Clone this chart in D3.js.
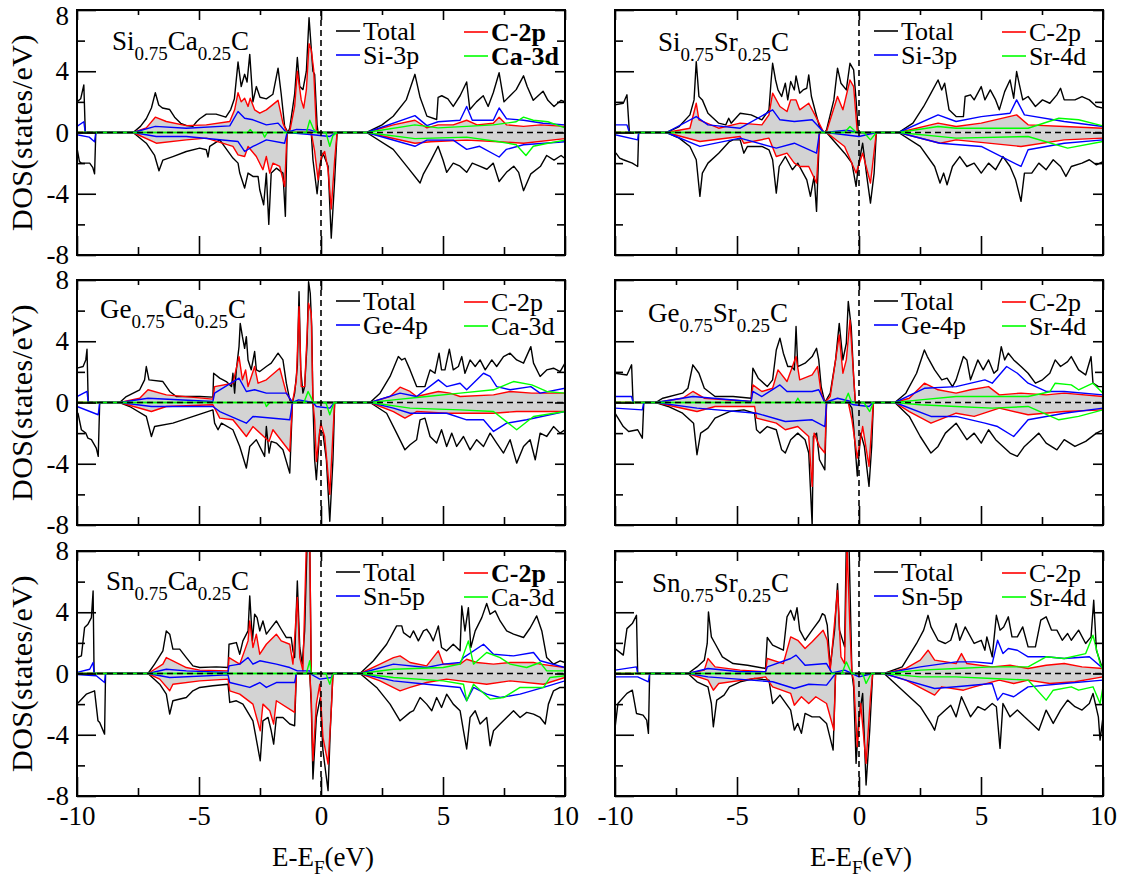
<!DOCTYPE html>
<html>
<head>
<meta charset="utf-8">
<script src="https://cdn.jsdelivr.net/npm/d3@7"></script>
<style>
  body { margin: 0; background: #fff; }
</style>
</head>
<body>
<svg id="chart" width="1125" height="884"></svg>
<script>
// ---- data: [E - E_F (eV), DOS (states/eV)], spin up (>0) and spin down (<0)
const xTicks = [-10, -5, 0, 5, 10];
const yTicks = [-8, -4, 0, 4, 8];

// Si0.75Ca0.25C
const siCaTotUp = [[-10,2.0],[-9.85,2.2],[-9.72,3.1],[-9.66,0],[-7.7,0],[-7.4,0.4],[-7.16,0.9],[-6.95,1.6],[-6.79,2.6],[-6.65,1.8],[-6.5,1.6],[-6.2,1.5],[-6.0,1.0],[-5.75,0.6],[-5.5,0.45],[-5.25,0.4],[-5.1,0.7],[-4.97,0.9],[-4.7,1.2],[-4.3,1.2],[-3.9,1.0],[-3.7,1.5],[-3.55,2.2],[-3.4,4.6],[-3.27,3.0],[-3.13,3.8],[-3.03,3.3],[-2.92,5.1],[-2.79,2.0],[-2.65,3.0],[-2.5,2.3],[-2.24,2.2],[-1.97,2.5],[-1.76,4.2],[-1.63,2.5],[-1.49,0.4],[-1.35,0],[-1.28,0.3],[-1.08,2.5],[-0.97,4.9],[-0.87,3.0],[-0.74,2.8],[-0.6,4.0],[-0.49,7.5],[-0.4,5.5],[-0.33,4.0],[-0.26,3.8],[-0.16,0.5],[-0.12,0],[1.87,0],[2.5,0.5],[2.96,1.06],[3.5,2.15],[3.85,3.8],[4.06,2.3],[4.34,1.07],[4.74,0.85],[4.8,2.3],[4.95,2.4],[5.2,2.2],[5.42,1.7],[5.7,2.4],[5.97,3.3],[6.1,1.5],[6.37,2.0],[6.65,2.4],[6.85,1.7],[7.06,2.6],[7.3,3.9],[7.5,2.0],[7.75,2.4],[8.0,2.8],[8.3,3.7],[8.45,3.0],[8.7,2.1],[9.1,2.7],[9.3,2.1],[9.55,1.7],[9.84,2.1],[10,2.0]];
const siCaTotDn = [[-10,-1.0],[-9.9,-1.9],[-9.82,-2.0],[-9.48,-2.0],[-9.35,-2.3],[-9.28,-2.7],[-9.23,0],[-7.7,0],[-7.16,-0.7],[-6.82,-1.5],[-6.64,-2.5],[-6.48,-1.8],[-6.07,-1.57],[-5.52,-1.24],[-4.97,-1.02],[-4.7,-1.13],[-4.63,-1.6],[-4.56,-0.91],[-4.15,-0.48],[-3.61,-1.67],[-3.4,-2.0],[-3.33,-2.65],[-3.13,-3.63],[-2.99,-2.65],[-2.79,-2.87],[-2.58,-2.87],[-2.51,-3.74],[-2.35,-4.72],[-2.24,-2.65],[-2.14,-6.0],[-2.04,-2.65],[-1.83,-2.33],[-1.56,-2.65],[-1.46,-5.48],[-1.39,0],[-0.4,0],[-0.33,-1.78],[-0.16,-4.0],[-0.05,-2.2],[0.08,-1.35],[0.29,-2.2],[0.42,-6.9],[0.56,-3.1],[0.66,0],[1.87,0],[2.96,-1.1],[3.51,-2.2],[4.06,-3.3],[4.2,-2.7],[4.48,-1.9],[4.8,-0.9],[5.0,-1.8],[5.15,-2.6],[5.42,-2.0],[5.7,-2.2],[5.97,-2.6],[6.2,-2.0],[6.5,-2.2],[6.8,-2.4],[7.06,-2.0],[7.3,-3.2],[7.6,-2.6],[7.9,-2.2],[8.1,-2.6],[8.3,-3.8],[8.6,-2.7],[9.0,-2.2],[9.25,-1.5],[9.55,-1.8],[9.84,-1.5],[10,-1.7]];
const siCaC2pUp = [[-10,0],[-7.7,0],[-7.16,0.3],[-6.79,1.0],[-6.34,0.72],[-5.52,0.45],[-4.7,0.5],[-3.74,0.72],[-3.54,1.48],[-3.4,2.6],[-3.27,2.0],[-3.13,2.24],[-2.99,1.7],[-2.9,2.24],[-2.72,1.48],[-2.51,1.26],[-2.24,1.48],[-1.76,2.1],[-1.56,0.61],[-1.39,0],[-1.28,0.07],[-1.08,1.7],[-0.97,4.0],[-0.81,2.13],[-0.71,1.59],[-0.6,2.78],[-0.49,5.8],[-0.4,5.4],[-0.3,4.1],[-0.19,0.17],[-0.12,0],[1.87,0],[2.96,0.5],[3.85,0.8],[4.34,0.3],[4.8,0.5],[5.42,0.5],[5.97,0.8],[6.4,0.5],[7.06,0.6],[7.3,1.0],[7.6,0.5],[8.3,0.4],[9.0,0.5],[10,0.4]];
const siCaC2pDn = [[-10,0],[-7.7,0],[-6.75,-0.7],[-5.52,-0.48],[-4.7,-0.37],[-3.61,-0.91],[-3.4,-1.46],[-3.13,-1.57],[-2.99,-0.91],[-2.65,-1.57],[-2.38,-2.43],[-2.24,-1.57],[-2.1,-2.65],[-1.97,-2.0],[-1.69,-2.22],[-1.49,-3.52],[-1.39,0],[-0.4,0],[-0.26,-1.24],[-0.12,-3.09],[0.01,-1.57],[0.15,-1.24],[0.29,-2.43],[0.42,-5.0],[0.56,-1.78],[0.66,0],[1.87,0],[3.85,-0.7],[4.5,-0.6],[5.97,-0.5],[7.3,-0.6],[8.3,-0.7],[10,-0.4]];
const siCaPUp = [[-10,0.4],[-9.72,0.7],[-9.66,0],[-7.7,0],[-6.79,0.4],[-5.52,0.28],[-3.74,0.43],[-3.4,1.37],[-3.13,0.93],[-2.79,0.83],[-2.24,0.5],[-1.76,0.61],[-1.42,0],[-1.0,0.2],[-0.46,0.17],[-0.12,0],[1.87,0],[3.85,1.1],[4.34,0.45],[4.8,0.7],[5.7,0.8],[5.97,1.7],[6.2,0.8],[7.06,0.8],[7.3,1.6],[7.6,0.9],[8.3,0.8],[9.1,0.6],[10,0.5]];
const siCaPDn = [[-10,-0.15],[-9.5,-0.3],[-9.28,-0.6],[-9.23,0],[-7.7,0],[-6.75,-0.26],[-5.52,-0.26],[-3.4,-0.59],[-3.13,-1.24],[-2.79,-0.91],[-2.24,-0.48],[-1.49,-0.7],[-1.39,0],[-0.33,-0.15],[0.36,-0.26],[0.66,0],[1.87,0],[3.85,-0.9],[4.34,-0.5],[5.42,-0.5],[5.97,-1.1],[6.5,-0.9],[7.3,-1.6],[7.6,-1.1],[8.3,-0.8],[10,-0.6]];
const siCaDUp = [[-10,0],[-3.0,0],[-2.9,0.2],[-2.8,0],[-0.6,0],[-0.46,0.8],[-0.3,0.2],[-0.12,0],[1.87,0],[3.85,0.5],[4.8,0.3],[5.97,0.4],[7.06,0.5],[8.0,0.7],[8.3,1.0],[8.7,0.8],[9.3,0.7],[10,0.3]];
const siCaDDn = [[-10,0],[-2.4,0],[-2.31,-0.3],[-2.2,0],[0.2,0],[0.36,-0.9],[0.49,-0.2],[0.66,0],[1.87,0],[3.85,-0.4],[5.97,-0.3],[7.3,-0.6],[8.0,-0.8],[8.4,-1.5],[8.7,-0.9],[9.3,-0.7],[10,-0.5]];

// Si0.75Sr0.25C
const siSrTotUp = [[-10,1.8],[-9.66,1.91],[-9.51,2.46],[-9.41,0],[-7.89,0],[-7.37,0.39],[-6.93,1.15],[-6.76,2.13],[-6.67,4.63],[-6.56,2.35],[-6.42,2.13],[-6.19,1.26],[-5.75,0.61],[-5.46,0.5],[-5.34,0.93],[-5.24,0.61],[-4.87,1.26],[-4.42,1.15],[-3.98,0.83],[-3.69,1.48],[-3.61,3.22],[-3.54,4.52],[-3.42,3.43],[-3.32,2.78],[-3.17,2.35],[-3.02,3.22],[-2.92,2.13],[-2.8,3.33],[-2.65,2.78],[-2.58,3.7],[-2.43,2.57],[-2.29,2.78],[-2.14,2.89],[-2.06,3.76],[-1.95,2.35],[-1.77,1.26],[-1.62,0.39],[-1.47,0.07],[-1.4,0],[-1.33,0.17],[-1.03,2.13],[-0.88,4.2],[-0.74,3.22],[-0.52,2.78],[-0.37,4.52],[-0.22,4.09],[-0.12,2.13],[-0.03,0],[1.62,0],[2.21,0.61],[2.65,1.7],[2.95,2.57],[3.24,3.43],[3.39,2.78],[3.51,3.22],[3.69,1.48],[3.98,1.04],[4.28,1.04],[4.35,2.35],[4.57,2.46],[4.72,2.13],[5.01,3.0],[5.16,2.13],[5.38,2.78],[5.6,2.13],[5.75,1.48],[5.97,2.67],[6.19,3.43],[6.34,2.24],[6.46,3.98],[6.56,3.22],[6.71,2.13],[6.93,2.35],[7.23,1.7],[7.52,2.13],[7.82,1.91],[8.11,2.46],[8.26,2.89],[8.41,2.13],[8.85,2.13],[9.14,2.35],[9.44,2.13],[9.73,1.7],[10,1.59]];
const siSrTotDn = [[-10,-1.35],[-9.96,-1.35],[-9.81,-1.67],[-9.66,-1.78],[-9.29,-2.0],[-9.07,-2.22],[-9.03,0],[-7.89,0],[-7.37,-0.37],[-6.93,-0.91],[-6.67,-1.78],[-6.52,-4.17],[-6.42,-2.65],[-6.19,-2.0],[-5.75,-1.35],[-5.31,-0.59],[-5.16,-0.48],[-4.87,-0.48],[-4.72,-1.35],[-4.57,-0.91],[-3.98,-0.91],[-3.69,-1.13],[-3.54,-1.78],[-3.39,-3.96],[-3.27,-2.22],[-3.02,-1.57],[-2.73,-2.43],[-2.51,-2.0],[-2.29,-2.65],[-2.14,-3.09],[-1.99,-4.17],[-1.84,-2.87],[-1.74,-5.15],[-1.62,0],[-1.33,0],[-0.59,-1.35],[-0.29,-2.0],[-0.12,-3.52],[-0.03,-2.22],[0.15,-0.7],[0.32,-2.87],[0.47,-4.61],[0.62,-2.65],[0.71,0],[1.62,0],[2.51,-0.91],[3.1,-2.22],[3.32,-3.3],[3.47,-2.65],[3.61,-3.41],[3.83,-2.22],[4.13,-1.57],[4.42,-2.22],[4.72,-2.0],[5.01,-2.65],[5.31,-2.0],[5.6,-2.43],[5.9,-1.57],[6.19,-2.22],[6.42,-3.09],[6.64,-4.5],[6.78,-2.65],[7.08,-2.65],[7.37,-2.0],[7.67,-2.43],[7.96,-1.78],[8.26,-2.22],[8.48,-2.87],[8.7,-2.22],[9.14,-2.0],[9.44,-1.78],[9.73,-2.11],[10,-1.9]];
const siSrC2pUp = [[-10,0],[-7.89,0],[-6.93,0.28],[-6.67,1.91],[-6.56,0.83],[-5.75,0.28],[-4.87,0.61],[-3.98,0.5],[-3.69,1.15],[-3.54,2.57],[-3.24,1.7],[-2.95,1.37],[-2.8,2.13],[-2.58,2.13],[-2.43,1.48],[-2.06,1.91],[-1.77,1.04],[-1.47,0.07],[-1.4,0],[-1.33,0.07],[-0.88,2.35],[-0.66,1.48],[-0.37,3.43],[-0.22,3.0],[-0.07,0],[1.62,0],[3.24,0.61],[3.98,0.39],[5.01,0.61],[6.46,1.15],[6.93,0.5],[8.41,0.39],[10,0.28]];
const siSrC2pDn = [[-10,0],[-7.89,0],[-6.52,-0.59],[-4.87,-0.26],[-4.72,-0.7],[-3.69,-0.37],[-3.39,-1.57],[-2.95,-1.35],[-2.65,-2.0],[-2.43,-2.22],[-2.06,-2.22],[-1.74,-3.3],[-1.62,0],[-1.33,0],[-0.59,-0.91],[-0.12,-2.65],[0.15,-1.35],[0.47,-3.3],[0.71,0],[1.62,0],[3.32,-0.7],[3.98,-0.48],[6.64,-0.91],[8.41,-0.48],[10,-0.37]];
const siSrPUp = [[-10,0.5],[-9.51,0.5],[-9.41,0],[-7.89,0],[-6.67,1.04],[-6.19,0.5],[-4.87,0.28],[-3.54,1.48],[-3.24,0.83],[-2.65,0.72],[-1.92,0.83],[-1.47,0.07],[-1.4,0],[-0.5,0.15],[-0.03,0],[1.62,0],[3.24,1.15],[3.98,0.72],[5.01,1.04],[6.19,1.26],[6.46,2.13],[6.78,1.15],[8.41,0.72],[10,0.39]];
const siSrPDn = [[-10,-0.15],[-9.07,-0.48],[-9.03,0],[-7.89,0],[-6.52,-0.91],[-4.87,-0.37],[-3.39,-1.02],[-2.65,-0.7],[-1.74,-1.35],[-1.62,0],[-1.33,0],[-0.59,-0.15],[0.0,-0.26],[0.71,0],[1.62,0],[3.32,-0.7],[5.01,-0.91],[6.64,-2.22],[6.93,-1.13],[8.41,-0.7],[10,-0.48]];
const siSrDUp = [[-10,0],[-0.6,0],[-0.37,0.39],[-0.1,0],[1.62,0],[3.24,0.39],[3.98,0.28],[6.93,0.28],[8.19,0.93],[9.0,0.83],[10,0.43]];
const siSrDDn = [[-10,0],[0.2,0],[0.47,-0.48],[0.71,0],[1.62,0],[3.98,-0.37],[6.93,-0.26],[8.55,-1.02],[10,-0.59]];

// Ge0.75Ca0.25C
const geCaTotUp = [[-10,2.24],[-9.75,2.35],[-9.64,2.78],[-9.59,3.48],[-9.54,0],[-8.25,0],[-7.98,0.39],[-7.43,0.83],[-7.23,1.48],[-7.16,2.35],[-7.05,1.48],[-6.48,1.37],[-6.2,0.72],[-5.93,0.39],[-4.97,0.39],[-4.43,0.35],[-4.4,1.91],[-4.15,1.59],[-3.88,1.37],[-3.67,1.04],[-3.61,1.91],[-3.54,0.61],[-3.47,2.13],[-3.36,3.65],[-3.31,5.17],[-3.22,4.3],[-3.13,3.54],[-3.06,4.3],[-2.99,2.78],[-2.86,2.13],[-2.72,3.33],[-2.65,2.13],[-2.51,2.02],[-2.24,2.35],[-2.04,2.57],[-1.76,3.22],[-1.56,2.78],[-1.42,1.26],[-1.28,0.17],[-1.17,0],[-1.08,0.61],[-0.97,2.35],[-0.9,7.24],[-0.83,2.13],[-0.74,0.61],[-0.67,1.04],[-0.57,3.87],[-0.51,7.89],[-0.44,7.13],[-0.38,4.96],[-0.33,0],[2.01,0],[2.42,0.61],[2.83,1.7],[3.17,3.0],[3.31,2.78],[3.44,2.89],[3.65,2.13],[3.92,1.04],[4.26,1.04],[4.47,2.13],[4.67,1.91],[4.84,3.22],[4.94,2.13],[5.08,2.13],[5.26,3.48],[5.42,2.13],[5.63,2.35],[5.77,3.0],[5.9,1.91],[6.11,2.78],[6.32,2.35],[6.52,2.78],[6.73,2.13],[7.0,2.78],[7.2,2.35],[7.48,3.0],[7.75,3.22],[8.02,2.78],[8.3,2.57],[8.6,3.65],[8.71,2.57],[8.98,1.7],[9.25,2.13],[9.53,2.24],[9.8,2.02],[10,2.57]];
const geCaTotDn = [[-10,-0.7],[-9.96,-0.7],[-9.82,-1.78],[-9.64,-2.0],[-9.55,-2.33],[-9.41,-2.43],[-9.21,-2.98],[-9.13,-3.52],[-9.07,0],[-8.25,0],[-7.84,-0.26],[-7.16,-0.91],[-6.95,-2.22],[-6.82,-1.57],[-6.07,-1.35],[-4.43,-0.48],[-4.36,-1.35],[-4.22,-1.78],[-4.08,-1.35],[-3.61,-1.78],[-3.33,-2.87],[-3.06,-4.28],[-2.92,-2.87],[-2.65,-2.43],[-2.31,-3.52],[-2.24,-1.57],[-2.13,-3.3],[-2.04,-2.54],[-1.83,-2.65],[-1.56,-3.09],[-1.28,-4.61],[-1.17,0],[-0.33,0],[-0.26,-3.74],[-0.19,-5.04],[-0.05,-1.78],[0.08,-2.0],[0.22,-3.74],[0.36,-7.76],[0.49,-3.74],[0.56,0],[2.01,0],[2.69,-0.7],[3.1,-2.0],[3.44,-3.09],[3.65,-2.76],[3.92,-2.43],[4.06,-1.13],[4.26,-1.02],[4.47,-2.22],[4.74,-2.65],[4.94,-1.78],[5.15,-2.87],[5.36,-2.0],[5.56,-2.87],[5.84,-2.22],[6.11,-3.09],[6.38,-2.43],[6.66,-2.87],[6.93,-2.0],[7.2,-2.65],[7.48,-3.3],[7.75,-2.43],[8.02,-3.96],[8.3,-2.87],[8.57,-2.43],[8.78,-3.74],[8.98,-2.0],[9.25,-2.22],[9.53,-1.57],[9.8,-2.0],[10,-1.78]];
const geCaC2pUp = [[-10,0],[-8.25,0],[-7.43,0.28],[-7.09,0.83],[-6.34,0.5],[-4.43,0.22],[-4.36,1.04],[-3.61,1.26],[-3.36,3.0],[-3.22,1.48],[-3.09,2.13],[-2.99,1.04],[-2.72,2.35],[-2.58,1.26],[-2.24,1.48],[-1.69,2.24],[-1.42,0.61],[-1.17,0],[-1.01,1.48],[-0.9,6.26],[-0.81,1.04],[-0.67,1.04],[-0.51,6.48],[-0.4,5.83],[-0.33,0],[2.01,0],[2.83,0.39],[3.24,1.0],[3.65,0.72],[3.92,0.39],[4.81,0.72],[5.29,0.61],[5.7,0.39],[7.07,0.5],[7.75,0.72],[8.64,0.61],[10,0.61]];
const geCaC2pDn = [[-10,0],[-8.25,0],[-6.95,-0.59],[-6.34,-0.26],[-4.43,-0.15],[-4.15,-1.02],[-3.61,-1.13],[-3.06,-2.22],[-2.79,-1.57],[-2.13,-2.54],[-1.97,-1.78],[-1.28,-3.2],[-1.17,0],[-0.33,0],[-0.26,-1.13],[-0.19,-3.85],[-0.01,-1.35],[0.15,-2.22],[0.36,-6.0],[0.49,-2.0],[0.56,0],[2.01,0],[2.97,-0.59],[3.44,-1.02],[3.92,-0.59],[5.15,-0.7],[7.07,-0.7],[8.02,-0.59],[10,-0.59]];
const geCaPUp = [[-10,0.39],[-9.59,0.72],[-9.54,0],[-8.25,0],[-7.09,0.28],[-4.43,0.07],[-4.36,0.61],[-3.36,1.59],[-3.06,0.72],[-2.72,0.83],[-2.24,0.61],[-1.42,0.61],[-1.17,0],[-0.92,0.17],[-0.33,0],[2.01,0],[3.24,0.61],[3.92,0.39],[4.81,1.48],[5.15,1.04],[5.7,1.26],[5.97,0.83],[6.66,1.91],[6.93,1.7],[7.2,1.04],[7.75,0.83],[8.6,1.04],[8.98,0.61],[10,0.93]];
const geCaPDn = [[-10,-0.26],[-9.13,-0.8],[-9.07,0],[-8.25,0],[-6.95,-0.26],[-4.43,-0.26],[-4.15,-0.59],[-3.06,-1.35],[-2.79,-0.91],[-1.28,-1.13],[-1.17,0],[-0.33,0],[-0.19,-0.26],[0.36,-0.37],[0.56,0],[2.01,0],[2.97,-0.37],[3.65,-0.7],[5.15,-0.7],[5.97,-1.13],[6.66,-1.13],[7.07,-1.89],[7.61,-1.35],[8.43,-1.13],[10,-0.59]];
const geCaDUp = [[-10,0],[-0.7,0],[-0.53,0.72],[-0.4,0.3],[-0.33,0],[2.01,0],[2.97,0.17],[4.33,0.39],[5.7,0.61],[7.07,0.83],[7.89,1.37],[8.64,1.15],[9.25,0.72],[10,0.61]];
const geCaDDn = [[-10,0],[-2.3,0],[-2.24,-0.26],[-2.1,0],[0.2,0],[0.36,-0.8],[0.49,-0.2],[0.56,0],[2.01,0],[3.65,-0.37],[5.7,-0.48],[7.07,-0.59],[8.02,-1.78],[8.71,-0.91],[10,-0.59]];

// Ge0.75Sr0.25C
const geSrTotUp = [[-10,1.91],[-9.51,1.8],[-9.32,2.46],[-9.26,0],[-8.33,0],[-8.04,0.28],[-7.23,0.61],[-7.01,0.93],[-6.81,2.46],[-6.56,1.91],[-6.34,0.93],[-5.9,0.39],[-5.16,0.39],[-4.42,0.28],[-4.35,2.24],[-4.13,1.59],[-3.76,1.04],[-3.54,1.48],[-3.39,3.43],[-3.24,4.2],[-3.1,3.22],[-2.92,2.35],[-2.77,2.35],[-2.65,2.13],[-2.58,4.96],[-2.51,2.35],[-2.21,2.57],[-1.92,3.0],[-1.74,3.54],[-1.65,2.78],[-1.55,1.04],[-1.4,0],[-1.18,0.61],[-0.96,2.78],[-0.81,5.17],[-0.66,2.78],[-0.52,3.87],[-0.44,6.6],[-0.32,4.96],[-0.22,1.7],[-0.15,0],[1.47,0],[1.92,0.61],[2.36,1.91],[2.68,3.43],[2.8,3.0],[3.1,2.13],[3.39,1.48],[3.61,1.59],[3.83,1.04],[3.98,1.48],[4.28,3.0],[4.42,2.78],[4.57,1.48],[4.87,2.78],[5.09,2.13],[5.31,2.78],[5.53,1.91],[5.68,2.13],[5.83,3.65],[5.97,2.78],[6.12,3.22],[6.34,2.78],[6.64,2.35],[6.93,1.91],[7.23,1.26],[7.52,1.48],[7.82,1.91],[8.04,2.78],[8.26,2.35],[8.55,2.67],[8.7,3.0],[9.0,2.13],[9.29,1.8],[9.51,3.0],[9.59,1.26],[9.81,1.04],[10,1.04]];
const geSrTotDn = [[-10,-0.7],[-9.66,-1.57],[-9.44,-1.89],[-9.07,-1.78],[-8.88,-2.33],[-8.82,0],[-8.33,0],[-7.82,-0.26],[-7.23,-0.7],[-6.78,-1.35],[-6.64,-3.41],[-6.49,-2.0],[-6.19,-1.67],[-5.9,-1.02],[-5.31,-0.59],[-4.72,-0.48],[-4.28,-0.7],[-4.2,-1.78],[-4.06,-2.0],[-3.76,-1.57],[-3.39,-1.78],[-3.17,-3.09],[-3.02,-3.3],[-2.8,-2.43],[-2.51,-2.0],[-2.21,-2.43],[-2.06,-3.3],[-1.92,-8.0],[-1.87,-2.22],[-1.74,-2.0],[-1.62,-3.74],[-1.4,-4.4],[-1.33,0],[-0.44,0],[-0.29,-0.37],[-0.22,-1.57],[-0.07,-4.8],[0.07,-2.0],[0.22,-2.87],[0.41,-5.48],[0.52,-2.87],[0.59,0],[1.47,0],[2.06,-0.91],[2.51,-2.22],[2.95,-3.3],[3.24,-2.87],[3.54,-2.0],[3.98,-1.35],[4.42,-2.43],[4.72,-2.0],[5.01,-2.65],[5.31,-1.78],[5.6,-2.43],[5.9,-2.87],[6.19,-3.3],[6.49,-3.52],[6.78,-2.87],[7.08,-2.43],[7.37,-2.0],[7.67,-2.65],[8.11,-3.09],[8.41,-2.43],[8.85,-2.87],[9.29,-2.54],[9.73,-2.0],[10,-1.78]];
const geSrC2pUp = [[-10,0],[-8.33,0],[-7.23,0.28],[-6.81,0.72],[-6.34,0.28],[-4.42,0.07],[-4.35,1.15],[-3.98,0.72],[-3.54,0.93],[-3.32,2.13],[-2.95,1.37],[-2.58,3.0],[-2.43,1.48],[-1.92,1.8],[-1.7,2.35],[-1.55,0.61],[-1.4,0],[-1.18,0.39],[-0.81,4.41],[-0.66,1.91],[-0.52,2.78],[-0.37,5.39],[-0.22,1.7],[-0.15,0],[1.47,0],[2.06,0.28],[2.68,1.26],[3.24,0.83],[3.98,0.61],[4.57,0.83],[5.31,1.04],[5.75,0.5],[6.64,0.61],[7.67,0.5],[8.41,0.61],[10,0.39]];
const geSrC2pDn = [[-10,0],[-8.33,0],[-6.64,-0.59],[-5.9,-0.26],[-4.28,-0.26],[-4.2,-1.02],[-3.39,-1.35],[-3.02,-1.78],[-2.51,-1.57],[-2.06,-2.22],[-1.92,-5.48],[-1.84,-2.0],[-1.62,-2.87],[-1.4,-3.3],[-1.33,0],[-0.44,0],[-0.29,-1.13],[-0.07,-3.63],[0.15,-1.57],[0.41,-4.17],[0.59,0],[1.47,0],[2.06,-0.59],[2.95,-1.35],[3.98,-0.7],[4.72,-0.91],[5.75,-0.37],[6.93,-0.8],[8.41,-0.59],[10,-0.48]];
const geSrPUp = [[-10,0.39],[-9.32,0.39],[-9.26,0],[-8.33,0],[-6.81,0.39],[-4.42,0.07],[-4.35,0.72],[-3.98,0.39],[-3.24,1.15],[-2.95,0.72],[-1.92,0.72],[-1.65,0.83],[-1.4,0],[-0.88,0.28],[-0.15,0],[1.47,0],[2.68,0.93],[3.98,1.04],[5.16,1.48],[5.46,1.26],[6.05,2.35],[6.49,1.91],[6.93,1.26],[7.67,0.72],[8.41,0.72],[10,0.5]];
const geSrPDn = [[-10,-0.37],[-8.88,-0.48],[-8.82,0],[-8.33,0],[-6.64,-0.37],[-4.2,-0.7],[-3.02,-1.24],[-1.92,-1.13],[-1.4,-1.57],[-1.33,0],[-0.44,0],[-0.22,-0.15],[0.41,-0.26],[0.59,0],[1.47,0],[2.95,-0.91],[3.98,-0.91],[5.16,-1.35],[5.68,-1.57],[6.34,-2.22],[6.93,-1.13],[8.41,-0.7],[10,-0.37]];
const geSrDUp = [[-10,0],[-2.6,0],[-2.51,0.28],[-2.4,0],[-0.6,0],[-0.44,0.61],[-0.3,0],[1.47,0],[2.51,0.17],[3.98,0.39],[5.46,0.39],[6.93,0.39],[7.82,0.7],[8.04,1.26],[8.7,1.15],[9.0,0.83],[9.59,1.26],[10,0.61]];
const geSrDDn = [[-10,0],[0.2,0],[0.44,-0.59],[0.59,0],[1.47,0],[2.51,-0.15],[3.98,-0.26],[5.46,-0.37],[6.93,-0.26],[8.19,-1.13],[9.0,-0.91],[10,-0.48]];

// Sn0.75Ca0.25C
const snCaTotUp = [[-10,1.04],[-9.82,1.15],[-9.69,3.0],[-9.55,3.22],[-9.41,3.65],[-9.34,5.39],[-9.3,0],[-7.09,0],[-6.82,0.61],[-6.48,1.48],[-6.34,2.78],[-6.2,2.57],[-6.07,1.59],[-5.79,1.59],[-5.52,1.04],[-5.25,0.5],[-4.97,0.39],[-4.29,0.43],[-3.81,0.39],[-3.77,1.91],[-3.47,2.02],[-3.33,1.26],[-3.2,2.13],[-2.99,2.78],[-2.92,5.07],[-2.81,2.13],[-2.72,3.87],[-2.62,3.65],[-2.51,2.78],[-2.38,3.43],[-2.24,2.57],[-2.04,3.0],[-1.83,3.43],[-1.63,2.89],[-1.42,2.35],[-1.22,2.35],[-1.15,1.48],[-1.08,1.04],[-0.97,6.04],[-0.87,1.7],[-0.77,0.61],[-0.67,2.78],[-0.57,8.5],[-0.46,8.5],[-0.4,0],[1.6,0],[2.15,0.83],[2.69,1.91],[3.1,3.11],[3.31,3.11],[3.38,2.67],[3.65,2.35],[3.79,2.78],[3.99,2.13],[4.2,2.78],[4.33,2.89],[4.47,2.57],[4.6,2.13],[4.81,3.11],[4.94,1.7],[5.15,1.48],[5.42,1.91],[5.7,1.48],[5.77,4.41],[5.9,2.78],[6.04,4.3],[6.14,1.7],[6.32,2.78],[6.59,3.65],[6.79,4.57],[6.93,3.87],[7.14,4.09],[7.34,3.43],[7.61,2.78],[7.89,2.57],[8.3,2.35],[8.57,2.97],[8.84,3.76],[9.05,2.78],[9.25,1.04],[9.53,0.61],[9.8,0.83],[10,0.72]];
const snCaTotDn = [[-10,-2.0],[-9.62,-1.35],[-9.28,-1.13],[-9.14,-3.09],[-9.07,-3.2],[-8.87,-3.96],[-8.83,0],[-7.09,0],[-6.61,-0.7],[-6.34,-1.35],[-6.2,-2.65],[-6.07,-1.78],[-5.52,-1.57],[-5.25,-1.13],[-4.97,-0.91],[-4.43,-0.8],[-3.81,-0.7],[-3.74,-1.89],[-3.47,-1.78],[-3.2,-2.0],[-2.79,-3.09],[-2.49,-5.7],[-2.38,-3.09],[-2.17,-2.87],[-2.04,-3.74],[-1.94,-4.61],[-1.83,-2.87],[-1.56,-2.87],[-1.28,-3.3],[-1.08,-3.41],[-1.01,0],[-0.46,0],[-0.4,-2.0],[-0.33,-6.89],[-0.19,-2.87],[-0.03,-1.57],[0.08,-5.04],[0.15,-5.91],[0.29,-7.65],[0.38,-3.74],[0.49,0],[1.6,0],[2.28,-0.91],[2.83,-2.0],[3.24,-3.09],[3.65,-2.54],[3.79,-2.43],[4.06,-1.57],[4.33,-2.0],[4.54,-2.43],[4.74,-1.57],[4.94,-2.22],[5.15,-1.35],[5.42,-2.0],[5.7,-2.43],[5.84,-3.74],[5.97,-4.93],[6.11,-2.87],[6.32,-2.43],[6.52,-3.3],[6.79,-2.87],[6.93,-4.72],[7.07,-3.74],[7.34,-3.3],[7.61,-2.87],[7.89,-2.43],[8.16,-2.87],[8.43,-2.54],[8.71,-2.65],[8.98,-2.87],[9.19,-3.3],[9.32,-2.0],[9.53,-1.13],[9.8,-0.91],[10,-0.91]];
const snCaC2pUp = [[-10,0],[-7.09,0],[-6.48,0.61],[-6.34,1.04],[-6.07,0.83],[-5.52,0.39],[-4.97,0.22],[-3.81,0.17],[-3.77,1.04],[-3.33,0.61],[-2.99,2.13],[-2.92,3.43],[-2.79,1.7],[-2.65,2.57],[-2.51,1.26],[-2.24,1.91],[-1.83,2.57],[-1.63,2.13],[-1.28,1.91],[-1.15,0.61],[-0.97,4.96],[-0.87,1.04],[-0.74,0.17],[-0.6,8.5],[-0.46,8.5],[-0.4,0],[1.6,0],[2.42,0.61],[2.97,1.04],[3.24,1.15],[3.65,0.72],[4.33,0.5],[4.81,1.48],[5.01,0.61],[5.7,0.61],[5.97,0.93],[6.38,0.72],[7.07,0.61],[7.75,0.72],[8.71,0.72],[8.98,0.61],[10,0.39]];
const snCaC2pDn = [[-10,0],[-7.09,0],[-6.61,-0.37],[-6.2,-1.13],[-6.07,-0.7],[-4.97,-0.48],[-3.81,-0.37],[-3.74,-1.13],[-3.33,-1.35],[-2.79,-2.0],[-2.49,-3.74],[-2.38,-2.0],[-2.1,-2.43],[-1.94,-3.3],[-1.83,-1.78],[-1.08,-2.54],[-1.01,0],[-0.46,0],[-0.4,-1.57],[-0.33,-5.7],[-0.19,-2.0],[-0.05,-0.7],[0.08,-4.17],[0.29,-5.91],[0.42,-2.43],[0.49,0],[1.6,0],[2.42,-0.48],[3.24,-1.13],[3.65,-0.91],[4.33,-0.59],[5.15,-0.37],[5.7,-0.48],[6.79,-0.7],[7.75,-0.48],[9.12,-0.7],[10,-0.26]];
const snCaPUp = [[-10,0.07],[-9.48,0.28],[-9.34,0.72],[-9.3,0],[-7.09,0],[-6.34,0.28],[-5.52,0.17],[-3.81,0.07],[-3.77,0.5],[-3.33,0.61],[-2.99,1.04],[-2.79,0.61],[-2.51,0.83],[-1.83,0.61],[-1.28,0.39],[-0.97,0.17],[-0.46,0.17],[-0.4,0],[1.6,0],[2.97,0.61],[4.33,0.39],[5.01,0.61],[5.7,0.72],[5.84,1.04],[6.66,1.91],[7.07,1.26],[7.89,1.15],[8.71,1.37],[8.98,0.83],[10,0.39]];
const snCaPDn = [[-10,-0.07],[-9.21,-0.15],[-8.87,-0.59],[-8.83,0],[-7.09,0],[-6.2,-0.26],[-3.81,-0.09],[-3.74,-0.59],[-2.92,-0.91],[-2.51,-0.59],[-2.24,-0.91],[-1.83,-0.59],[-1.08,-0.59],[-1.01,0],[-0.46,0],[-0.05,-0.37],[0.42,-0.26],[0.49,0],[1.6,0],[2.97,-0.48],[4.33,-0.7],[5.7,-0.91],[5.97,-1.78],[6.25,-0.91],[6.79,-1.35],[7.34,-1.57],[8.16,-1.35],[9.12,-0.91],[10,-0.48]];
const snCaDUp = [[-10,0],[-0.6,0],[-0.46,0.83],[-0.4,0],[1.6,0],[2.97,0.28],[5.01,0.39],[5.7,0.61],[6.04,2.13],[6.25,0.61],[6.79,1.37],[7.34,1.04],[7.75,0.61],[8.43,0.39],[8.98,0.72],[9.25,0.17],[10,0.17]];
const snCaDDn = [[-10,0],[0.2,0],[0.36,-0.7],[0.49,0],[1.6,0],[2.97,-0.26],[5.01,-0.48],[5.84,-0.7],[5.97,-1.78],[6.25,-0.7],[6.93,-1.67],[7.48,-1.57],[8.16,-0.91],[9.12,-0.91],[9.39,-0.26],[10,-0.15]];

// Sn0.75Sr0.25C
const snSrTotUp = [[-10,1.63],[-9.66,1.2],[-9.51,2.93],[-9.29,3.26],[-9.12,3.8],[-9.07,0],[-7.01,0],[-6.64,0.43],[-6.34,0.87],[-6.22,1.96],[-6.17,4.02],[-6.05,2.39],[-5.9,1.96],[-5.6,1.09],[-5.16,0.65],[-4.57,0.54],[-3.83,0.33],[-3.76,2.35],[-3.54,1.85],[-3.1,1.52],[-2.95,3.7],[-2.8,4.13],[-2.65,3.48],[-2.54,4.3],[-2.43,2.83],[-2.21,2.17],[-1.92,2.83],[-1.62,3.48],[-1.5,3.91],[-1.4,3.8],[-1.3,3.15],[-1.18,0.43],[-1.0,2.83],[-0.88,5.87],[-0.8,2.83],[-0.59,1.74],[-0.52,8.5],[-0.41,8.5],[-0.29,0],[1.03,0],[1.77,0.43],[2.36,1.96],[2.65,2.83],[2.83,3.8],[2.95,3.04],[3.24,2.17],[3.54,1.96],[3.76,2.17],[3.98,3.26],[4.13,2.17],[4.35,3.04],[4.72,1.96],[5.01,2.17],[5.16,1.52],[5.24,2.39],[5.46,1.09],[5.63,3.8],[5.78,2.83],[5.93,3.04],[6.12,3.7],[6.27,2.39],[6.49,2.39],[6.71,3.04],[6.93,1.74],[7.23,1.74],[7.45,3.48],[7.67,3.7],[7.89,2.83],[8.11,2.83],[8.33,2.17],[8.55,2.61],[8.7,2.17],[9.0,2.83],[9.29,1.96],[9.51,2.39],[9.62,4.78],[9.73,1.52],[10,0.22]];
const snSrTotDn = [[-10,-3.59],[-9.88,-1.96],[-9.51,-1.3],[-9.29,-1.09],[-9.12,-2.61],[-8.85,-2.72],[-8.7,-3.04],[-8.63,-3.91],[-8.58,0],[-7.01,0],[-6.64,-0.54],[-6.19,-0.87],[-6.05,-1.96],[-5.97,-3.48],[-5.83,-1.74],[-5.53,-1.41],[-5.31,-0.87],[-4.87,-0.54],[-4.28,-0.33],[-3.69,-0.43],[-3.54,-1.96],[-3.24,-1.41],[-2.8,-2.39],[-2.65,-3.7],[-2.51,-3.26],[-2.36,-3.91],[-2.21,-2.61],[-1.92,-2.83],[-1.62,-2.83],[-1.33,-3.26],[-1.06,-5.0],[-0.96,0],[-0.29,0],[-0.22,-0.87],[-0.12,-5.87],[0.0,-2.83],[0.15,-1.3],[0.29,-7.28],[0.44,-3.7],[0.56,0],[1.03,0],[1.92,-1.3],[2.51,-2.17],[2.95,-3.26],[3.1,-3.7],[3.24,-2.83],[3.54,-2.39],[3.76,-2.07],[3.98,-2.83],[4.2,-1.52],[4.57,-2.83],[4.87,-2.17],[5.16,-2.39],[5.46,-1.96],[5.63,-2.17],[5.78,-4.89],[5.9,-1.96],[6.19,-2.83],[6.49,-2.39],[6.78,-2.83],[7.08,-3.26],[7.37,-3.7],[7.67,-2.39],[7.96,-3.26],[8.26,-2.39],[8.55,-1.74],[8.85,-2.17],[9.14,-2.39],[9.44,-1.96],[9.59,-1.3],[9.81,-2.83],[9.88,-4.35],[10,-2.83]];
const snSrC2pUp = [[-10,0],[-7.01,0],[-6.34,0.22],[-6.19,0.98],[-5.9,0.43],[-4.87,0.22],[-3.83,0.11],[-3.76,0.98],[-3.1,0.65],[-2.8,2.39],[-2.51,2.17],[-2.21,1.63],[-1.92,2.07],[-1.47,2.83],[-1.3,2.17],[-1.18,0.22],[-0.88,5.43],[-0.74,1.09],[-0.59,0.65],[-0.49,8.5],[-0.37,2.83],[-0.29,0],[1.03,0],[1.92,0.33],[2.51,0.87],[2.83,1.52],[3.1,0.87],[3.98,0.65],[4.2,1.3],[4.42,0.65],[5.46,0.43],[6.19,0.54],[6.93,0.33],[7.67,0.54],[8.41,0.65],[9.14,0.43],[10,0.33]];
const snSrC2pDn = [[-10,0],[-7.01,0],[-6.19,-0.43],[-5.97,-1.09],[-5.75,-0.65],[-3.83,-0.22],[-3.54,-0.87],[-2.8,-1.3],[-2.65,-2.07],[-2.36,-1.52],[-2.06,-1.96],[-1.77,-1.52],[-1.33,-1.96],[-1.03,-3.7],[-0.96,0],[-0.29,0],[-0.22,-0.43],[-0.07,-4.78],[0.07,-1.96],[0.29,-5.87],[0.47,-1.52],[0.56,0],[1.03,0],[1.92,-0.43],[3.1,-1.41],[3.39,-0.87],[4.28,-1.09],[4.72,-0.87],[5.75,-0.43],[6.34,-0.65],[6.93,-0.43],[7.82,-0.65],[8.85,-0.54],[10,-0.22]];
const snSrPUp = [[-10,0.22],[-9.12,0.43],[-9.07,0],[-7.01,0],[-6.19,0.33],[-4.87,0.11],[-3.83,0.11],[-3.76,0.43],[-2.8,0.98],[-2.58,1.2],[-2.21,0.54],[-1.33,0.65],[-1.11,0.04],[-0.59,0.22],[-0.29,0],[1.03,0],[2.51,0.43],[3.98,0.76],[4.72,0.76],[5.46,0.65],[5.68,2.17],[5.9,1.3],[6.12,1.63],[6.49,1.52],[6.93,1.09],[7.67,1.09],[8.41,0.98],[9.44,1.09],[10,0.33]];
const snSrPDn = [[-10,-0.22],[-9.07,-0.22],[-8.63,-0.54],[-8.58,0],[-7.01,0],[-6.19,-0.22],[-3.54,-0.54],[-2.65,-0.98],[-2.06,-0.7],[-1.33,-0.76],[-0.96,0],[-0.29,0],[0.0,-0.22],[0.56,0],[1.03,0],[1.92,-0.43],[3.1,-0.98],[3.98,-0.87],[5.46,-0.65],[5.68,-1.74],[5.9,-1.3],[6.34,-1.52],[6.93,-0.87],[8.41,-0.65],[10,-0.43]];
const snSrDUp = [[-10,0],[-0.7,0],[-0.52,0.76],[-0.3,0],[1.03,0],[2.51,0.22],[3.98,0.33],[5.46,0.43],[6.93,0.43],[7.67,1.09],[8.41,0.98],[9.29,1.3],[9.59,2.5],[9.88,0.65],[10,0.22]];
const snSrDDn = [[-10,0],[0.15,0],[0.29,-0.65],[0.5,0],[1.03,0],[2.51,-0.22],[3.98,-0.22],[5.46,-0.33],[6.93,-0.43],[7.67,-1.74],[7.96,-1.09],[8.7,-0.87],[9.0,-1.09],[9.59,-0.87],[9.88,-1.96],[10,-0.87]];

// ---- panels
const panels = [
  { col: 0, row: 0, host: "Si", dop: "Ca", p: "Si-3p", d: "Ca-3d", bold: [true, true], lx: 35, ly: 40,
    tot: [siCaTotUp, siCaTotDn], c2p: [siCaC2pUp, siCaC2pDn], pp: [siCaPUp, siCaPDn], dd: [siCaDUp, siCaDDn] },
  { col: 1, row: 0, host: "Si", dop: "Sr", p: "Si-3p", d: "Sr-4d", bold: [false, false], lx: 43, ly: 41,
    tot: [siSrTotUp, siSrTotDn], c2p: [siSrC2pUp, siSrC2pDn], pp: [siSrPUp, siSrPDn], dd: [siSrDUp, siSrDDn] },
  { col: 0, row: 1, host: "Ge", dop: "Ca", p: "Ge-4p", d: "Ca-3d", bold: [false, false], lx: 23, ly: 38,
    tot: [geCaTotUp, geCaTotDn], c2p: [geCaC2pUp, geCaC2pDn], pp: [geCaPUp, geCaPDn], dd: [geCaDUp, geCaDDn] },
  { col: 1, row: 1, host: "Ge", dop: "Sr", p: "Ge-4p", d: "Sr-4d", bold: [false, false], lx: 33, ly: 42,
    tot: [geSrTotUp, geSrTotDn], c2p: [geSrC2pUp, geSrC2pDn], pp: [geSrPUp, geSrPDn], dd: [geSrDUp, geSrDDn] },
  { col: 0, row: 2, host: "Sn", dop: "Ca", p: "Sn-5p", d: "Ca-3d", bold: [true, false], lx: 29, ly: 39,
    tot: [snCaTotUp, snCaTotDn], c2p: [snCaC2pUp, snCaC2pDn], pp: [snCaPUp, snCaPDn], dd: [snCaDUp, snCaDDn] },
  { col: 1, row: 2, host: "Sn", dop: "Sr", p: "Sn-5p", d: "Sr-4d", bold: [false, false], lx: 37, ly: 41,
    tot: [snSrTotUp, snSrTotDn], c2p: [snSrC2pUp, snSrC2pDn], pp: [snSrPUp, snSrPDn], dd: [snSrDUp, snSrDDn] }
];

const SERIF = "Liberation Serif";
const colX = [77, 615];
const rowY = [10, 280, 551];
const W = 488, H = 245;
const FONT = 27;

const svg = d3.select("#chart");

const x = d3.scaleLinear().domain([-10, 10]).range([0, W]);
const y = d3.scaleLinear().domain([-8, 8]).range([H, 0]);

const line = d3.line().x(d => x(d[0])).y(d => y(d[1]));
const area = d3.area().x(d => x(d[0])).y0(y(0)).y1(d => y(d[1]));
const plain = d => String(d);   // ASCII hyphen, as in the figure

panels.forEach((p, i) => {
  const g = svg.append("g").attr("transform", `translate(${colX[p.col]},${rowY[p.row]})`);

  g.append("clipPath").attr("id", "clip" + i)
    .append("rect").attr("width", W).attr("height", H);

  const plot = g.append("g").attr("clip-path", `url(#clip${i})`);

  // shaded C-2p
  p.c2p.forEach(s => {
    plot.append("path").datum(s).attr("d", area).attr("fill", "#d3d3d3");
  });

  const series = [
    [p.tot, "#000000"],
    [p.c2p, "#ff0000"],
    [p.pp, "#0000ff"],
    [p.dd, "#00ff00"]
  ];
  series.forEach(([pair, color]) => {
    pair.forEach(s => {
      plot.append("path").datum(s)
        .attr("d", line)
        .attr("fill", "none")
        .attr("stroke", color)
        .attr("stroke-width", 1.4)
        .attr("stroke-linejoin", "round");
    });
  });

  // zero lines
  plot.append("line")
    .attr("x1", 0).attr("x2", W).attr("y1", y(0)).attr("y2", y(0))
    .attr("stroke", "#000").attr("stroke-width", 1.6).attr("stroke-dasharray", "6,4");
  plot.append("line")
    .attr("x1", x(0)).attr("x2", x(0)).attr("y1", 0).attr("y2", H)
    .attr("stroke", "#000").attr("stroke-width", 1.6).attr("stroke-dasharray", "6,4");

  // axes: ticks pointing inward
  const xMinor = d3.range(-7.5, 10, 5);
  const yMinor = d3.range(-6, 8, 4);
  const showX = p.row === 2;
  const showY = p.col === 0;

  const addAxis = (gen, tr) => {
    const a = g.append("g").attr("transform", tr).call(gen);
    a.select(".domain").remove();
    a.selectAll("line").attr("stroke", "#000").attr("stroke-width", 1.6);
    a.selectAll("text").attr("font-size", FONT).attr("fill", "#000")
      .style("font-family", SERIF);
    return a;
  };

  addAxis(d3.axisBottom(x).tickValues(xTicks).tickSize(-19).tickPadding(10)
    .tickFormat(showX ? plain : ""), `translate(0,${H})`);
  addAxis(d3.axisBottom(x).tickValues(xMinor).tickSize(-8).tickFormat(""), `translate(0,${H})`);
  addAxis(d3.axisTop(x).tickValues(xTicks).tickSize(-10).tickFormat(""), "translate(0,0)");
  addAxis(d3.axisTop(x).tickValues(xMinor).tickSize(-5).tickFormat(""), "translate(0,0)");

  const yl = addAxis(d3.axisLeft(y).tickValues(yTicks).tickSize(-19).tickPadding(8)
    .tickFormat(showY ? plain : ""), "translate(0,0)");
  // keep the top label inside the picture
  if (p.row === 0) yl.selectAll("text").filter(d => d === 8).attr("dy", "0.55em");
  addAxis(d3.axisLeft(y).tickValues(yMinor).tickSize(-8).tickFormat(""), "translate(0,0)");
  addAxis(d3.axisRight(y).tickValues(yTicks).tickSize(-10).tickFormat(""), `translate(${W},0)`);
  addAxis(d3.axisRight(y).tickValues(yMinor).tickSize(-8).tickFormat(""), `translate(${W},0)`);

  // frame
  g.append("rect").attr("width", W).attr("height", H)
    .attr("fill", "none").attr("stroke", "#000").attr("stroke-width", 2);

  // compound label
  const t = g.append("text").attr("x", p.lx).attr("y", p.ly)
    .attr("font-size", 27).attr("fill", "#000").style("font-family", SERIF);
  t.append("tspan").text(p.host);
  t.append("tspan").attr("dy", 10).attr("font-size", 19).text("0.75");
  t.append("tspan").attr("dy", -10).text(p.dop);
  t.append("tspan").attr("dy", 10).attr("font-size", 19).text("0.25");
  t.append("tspan").attr("dy", -10).text("C");

  // legend
  const leg = [
    { name: "Total", color: "#000", lx: 259, ty: 30, bold: false },
    { name: p.p, color: "#0000ff", lx: 259, ty: 54, bold: false },
    { name: "C-2p", color: "#ff0000", lx: 387, ty: 31, bold: p.bold[0] },
    { name: p.d, color: "#00ff00", lx: 387, ty: 55, bold: p.bold[1] }
  ];
  leg.forEach(l => {
    g.append("line").attr("x1", l.lx).attr("x2", l.lx + 24)
      .attr("y1", l.ty - 9).attr("y2", l.ty - 9)
      .attr("stroke", l.color).attr("stroke-width", 1.6);
    g.append("text").attr("x", l.lx + 27).attr("y", l.ty)
      .attr("font-size", 26).attr("fill", "#000")
      .attr("font-weight", l.bold ? "bold" : "normal")
      .style("font-family", SERIF)
      .text(l.name);
  });

  // y label
  if (showY) {
    svg.append("text")
      .attr("transform", `translate(32,${rowY[p.row] + H / 2}) rotate(-90)`)
      .attr("text-anchor", "middle").attr("font-size", 30)
      .attr("letter-spacing", 0.5).attr("fill", "#000")
      .style("font-family", SERIF)
      .text("DOS(states/eV)");
  }
  // x label
  if (showX) {
    const xl = svg.append("text")
      .attr("x", colX[p.col] + x(0) + 2).attr("y", 866)
      .attr("text-anchor", "middle").attr("font-size", 27).attr("fill", "#000")
      .style("font-family", SERIF);
    xl.append("tspan").text("E-E");
    xl.append("tspan").attr("dy", 8).attr("font-size", 19).text("F");
    xl.append("tspan").attr("dy", -8).text("(eV)");
  }
});
</script>
</body>
</html>
